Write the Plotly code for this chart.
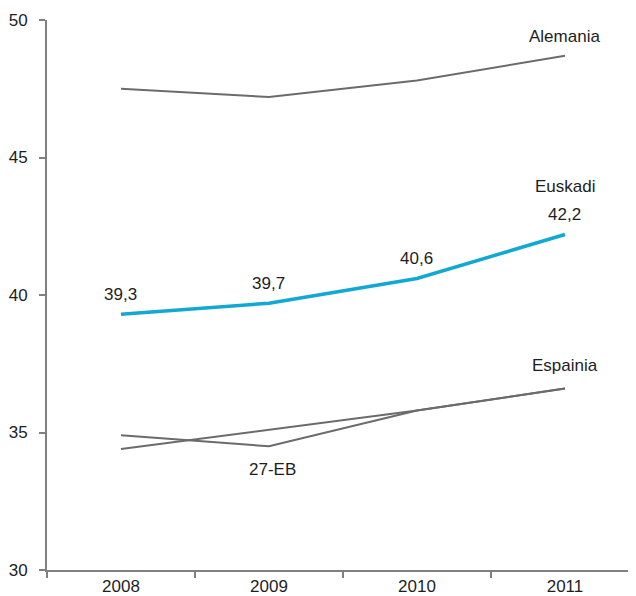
import plotly.graph_objects as go

years = ["2008", "2009", "2010", "2011"]
alemania = [47.5, 47.2, 47.8, 48.7]
euskadi = [39.3, 39.7, 40.6, 42.2]
espainia = [34.4, 35.1, 35.8, 36.6]
eb27 = [34.9, 34.5, 35.8, 36.6]
euskadi_labels = ["39,3", "39,7", "40,6", "42,2"]

GRAY = "#6b6b6b"
BLUE = "#12a8d2"
TXT = "#1e1e1e"
FONT = "Liberation Sans, Arial, sans-serif"

fig = go.Figure()
for vals in (alemania, espainia, eb27):
    fig.add_trace(go.Scatter(x=years, y=vals, mode="lines",
                             line=dict(color=GRAY, width=2), showlegend=False, hoverinfo="skip"))
fig.add_trace(go.Scatter(x=years, y=euskadi, mode="lines",
                         line=dict(color=BLUE, width=3.5), showlegend=False, hoverinfo="skip"))

ann = []
for i, (v, t) in enumerate(zip(euskadi, euskadi_labels)):
    ann.append(dict(x=i, y=v, text=t, showarrow=False, yshift=20))
ann.append(dict(x=3, y=alemania[3], text="Alemania", showarrow=False, yshift=19))
ann.append(dict(x=3, y=euskadi[3], text="Euskadi", showarrow=False, yshift=48))
ann.append(dict(x=3, y=espainia[3], text="Espainia", showarrow=False, yshift=23))
ann.append(dict(x=1, y=eb27[1], text="27-EB", showarrow=False, yshift=-23, xshift=4))
for a in ann:
    a["font"] = dict(family=FONT, size=17, color=TXT)
    a["xref"] = "x"
    a["yref"] = "y"

fig.update_layout(
    width=628, height=588,
    margin=dict(l=39, r=0, t=12, b=26, autoexpand=False),
    paper_bgcolor="white", plot_bgcolor="white",
    annotations=ann,
    font=dict(family=FONT, size=17, color=TXT),
)
fig.update_xaxes(type="category", range=[-0.5, 3.48], tickson="boundaries",
                 ticks="outside", ticklen=6, tickcolor="#808080", tickwidth=1.5,
                 showline=True, linecolor="#808080", linewidth=2,
                 showgrid=False, zeroline=False, automargin=False,
                 tickfont=dict(family=FONT, size=17, color=TXT))
fig.update_yaxes(range=[30, 50], dtick=5, ticks="outside", ticklen=6,
                 tickcolor="#808080", tickwidth=1.5,
                 showline=True, linecolor="#808080", linewidth=2,
                 showgrid=False, zeroline=False, ticklabelstandoff=8, automargin=False,
                 tickfont=dict(family=FONT, size=17, color=TXT))

fig.write_html("out.html")
